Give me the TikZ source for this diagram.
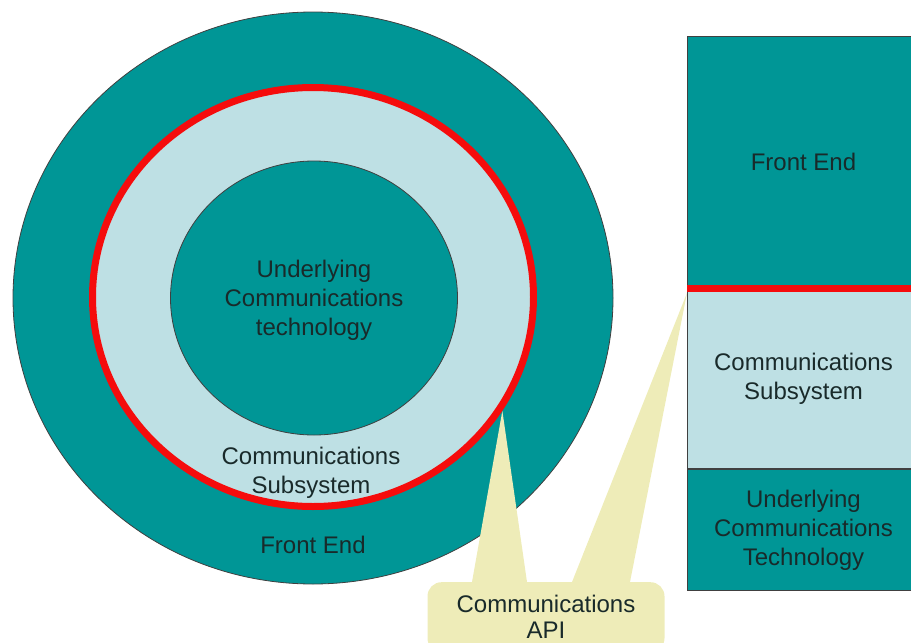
\documentclass[tikz,border=0pt]{standalone}
\usepackage{fontspec}
\setmainfont{Liberation Sans}
\usepackage{tikz}
\usetikzlibrary{shapes.geometric,positioning}
\definecolor{feteal}{RGB}{0,150,150}
\definecolor{cslight}{RGB}{190,224,228}
\definecolor{apired}{RGB}{245,12,12}
\definecolor{apiyellow}{RGB}{238,236,184}
\definecolor{textdark}{RGB}{25,42,42}
\tikzset{
  lbl/.style={align=center, text=textdark, inner sep=0pt,
    font=\fontsize{24}{29}\selectfont},
  ring/.style={ellipse, inner sep=0pt, draw=black!75, line width=0.8pt},
  layerbox/.style={rectangle, draw=black!75, line width=1pt, minimum width=232, inner sep=0pt,
    align=center, text=textdark, font=\fontsize{24}{29}\selectfont}
}
\begin{document}
\begin{tikzpicture}[x=1pt,y=-1pt]
     % picture frame
      \useasboundingbox (0,0) rectangle (911,643);
      \clip (0,0) rectangle (911,643);

      % draw the three rings
      \node[ring, fill=feteal, minimum width=600, minimum height=572] (outer) at (313,298) {};
      \node[ring, draw=apired, line width=7pt, fill=cslight, minimum width=441, minimum height=419] (csring) at (313,297) {};
      \node[ring, fill=feteal, minimum width=287, minimum height=274] (core) at (314,298) {};

        % ring labels
       \node[lbl] (corelbl) at (314,300) {Underlying\\Communications\\technology};
       \node[lbl] (cslbl) at (311,473) {Communications\\Subsystem};
       \node[lbl] (felbl) at (313,545) {Front End};

      % draw the layer stack
       \node[layerbox, fill=feteal, minimum height=251, anchor=north west] (rfe) at (687,36) {Front End};
       \node[layerbox, fill=cslight, minimum height=180, below=0pt of rfe] (rcs) {Communications\\Subsystem};
       \node[layerbox, fill=feteal, minimum height=121, below=0pt of rcs] (ruct) {Underlying\\Communications\\Technology};
       \draw[apired, line width=7pt] (rcs.north west) -- (rcs.north east);

        % draw the API callout
       \node[lbl, font=\fontsize{24}{26}\selectfont, fill=apiyellow, rounded corners=14, minimum width=237, minimum height=70, anchor=north] (api) at (546,582) {Communications\\API};
       \fill[apiyellow] ([xshift=-74]api.north) -- (csring.-31) -- ([xshift=-19]api.north) -- cycle;
       \fill[apiyellow] ([xshift=26]api.north) -- ([yshift=-5]rcs.north west) -- ([xshift=84]api.north) -- cycle;

       \end{tikzpicture}
\end{document}
